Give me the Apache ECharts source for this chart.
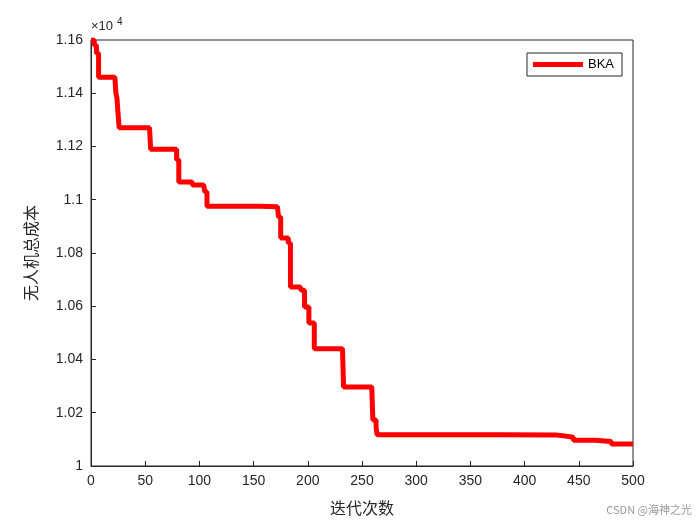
<!DOCTYPE html>
<html><head><meta charset="utf-8">
<script src="https://cdn.jsdelivr.net/npm/echarts@6/dist/echarts.min.js"></script>
<style>html,body{margin:0;padding:0;background:#fff}#c{width:700px;height:525px}</style>
</head><body><div id="c"></div>
<script>
const iters = [0,3,5,7,22,23,24,25,26,54,55,77,79,81,93,94,104,105,107,156,172,173,175,182,184,193,194,197,201,206,232,233,259,260,263,264,380,430,435,445,465,480,500];
const costs = [1.16,1.158,1.155,1.146,1.146,1.140,1.138,1.132,1.127,1.127,1.119,1.119,1.115,1.1067,1.1067,1.1055,1.1055,1.103,1.0976,1.0974,1.0972,1.0935,1.0856,1.0838,1.0672,1.0668,1.066,1.0597,1.0537,1.044,1.044,1.0297,1.0297,1.0173,1.0143,1.0117,1.0116,1.0114,1.0108,1.0097,1.0092,1.0083,1.0081];
const xTicks = [0,50,100,150,200,250,300,350,400,450,500];
const seriesName = 'BKA';
const data = iters.map((x,i)=>[x,costs[i]]);
const chart = echarts.init(document.getElementById('c'));
const axLine = {show:true,lineStyle:{color:'#262626',width:1}};
chart.setOption({
  animation:false,
  grid:{left:91,right:67,top:40,bottom:59,show:true,borderColor:'#262626',borderWidth:1},
  legend:{show:true,right:78,top:53,orient:'vertical',itemWidth:50,itemHeight:5,
    borderColor:'#262626',borderWidth:1,borderRadius:0,padding:[5,8,5,6],
    textStyle:{fontFamily:'Arial, Liberation Sans',fontSize:13,color:'#000'},
    data:[{name:seriesName,icon:'rect'}]},
  xAxis:{type:'value',min:0,max:500,interval:50,axisLine:axLine,
    axisTick:{inside:true,length:5,lineStyle:{color:'#262626'}},
    splitLine:{show:false},
    axisLabel:{color:'#262626',fontSize:14,fontFamily:'Arial, Liberation Sans',margin:8},
    name:'迭代次数',nameLocation:'middle',nameGap:34,
    nameTextStyle:{fontFamily:'Noto Sans CJK SC',fontSize:16,color:'#262626'}},
  yAxis:{type:'value',min:1,max:1.16,interval:0.02,axisLine:axLine,
    axisTick:{inside:true,length:5,lineStyle:{color:'#262626'}},
    splitLine:{show:false},
    axisLabel:{color:'#262626',fontSize:14,fontFamily:'Arial, Liberation Sans',
      formatter:v=>String(parseFloat(v.toFixed(2)))},
    name:'无人机总成本',nameLocation:'middle',nameGap:52,
    nameTextStyle:{fontFamily:'Noto Sans CJK SC',fontSize:16,color:'#262626'}},
  graphic:[
    {type:'text',left:91,top:20,style:{text:'×10',fontSize:13,fontFamily:'Arial, Liberation Sans',fill:'#262626'}},
    {type:'text',left:117,top:17,style:{text:'4',fontSize:10,fontFamily:'Arial, Liberation Sans',fill:'#262626'}},
    {type:'text',right:8,bottom:10,style:{text:'CSDN @海神之光',fontSize:11,fontFamily:'Noto Sans CJK SC',fill:'#999'}}
  ],
  series:[{name:seriesName,type:'line',step:'end',data:data,showSymbol:false,
    lineStyle:{color:'#ff0000',width:5},itemStyle:{color:'#ff0000'}}]
});
</script></body></html>
